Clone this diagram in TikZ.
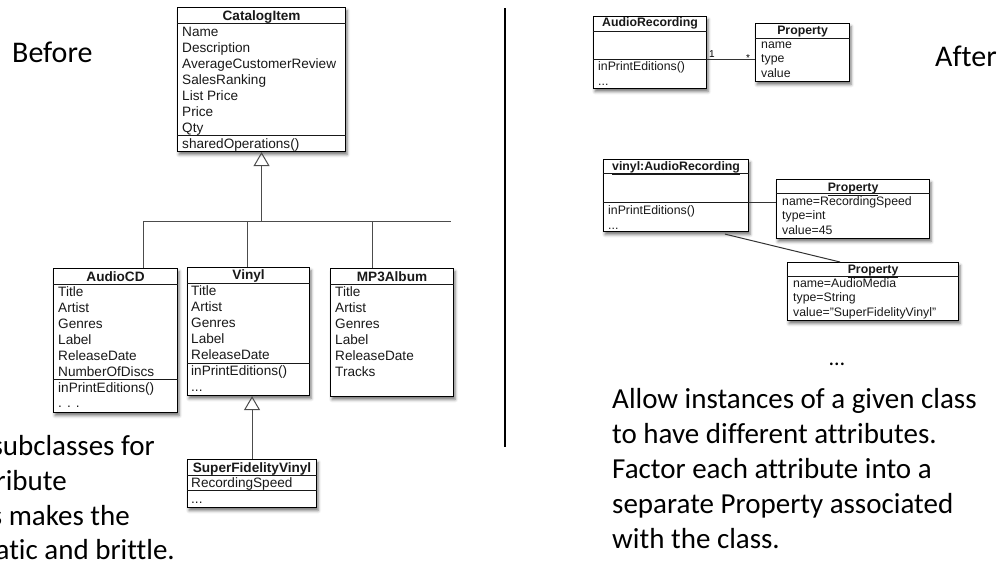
\documentclass[tikz,border=0pt]{standalone}
\usepackage{fontspec}
\setmainfont{Liberation Sans}
\newfontfamily\slidefont[Ligatures=NoCommon]{Carlito}
\usetikzlibrary{arrows.meta,shadows.blur,calc}

\tikzset{
  x=1pt, y=-1pt,
  uml/.style={draw=black, line width=1.1pt, fill=white, inner sep=0pt,
    anchor=north west,
    blur shadow={shadow xshift=1.5pt, shadow yshift=-3pt,
      shadow blur radius=3pt, shadow opacity=55}},
  sepline/.style={draw=black!90, line width=0.9pt},
  bigattr/.style={font=\fontsize{13.6}{16}\selectfont, text=black!90,
    inner sep=0pt, anchor=base west},
  bigtitle/.style={font=\bfseries\fontsize{13.6}{16}\selectfont, text=black!90,
    inner sep=0pt, anchor=base},
  smallattr/.style={font=\fontsize{12.3}{14}\selectfont, text=black!90,
    inner sep=0pt, anchor=base west},
  smalltitle/.style={font=\bfseries\fontsize{12.3}{14}\selectfont, text=black!90,
    inner sep=0pt, anchor=base},
  genline/.style={draw=black!70, line width=1pt},
  genarrow/.style={genline, -{Triangle[open, width=16pt, length=14pt]}},
  assoc/.style={draw=black!80, line width=1pt},
  slidetext/.style={font=\slidefont\fontsize{29}{34}\selectfont,
    inner sep=0pt, anchor=base west},
  headtext/.style={font=\slidefont\fontsize{30}{36}\selectfont,
    inner sep=0pt, anchor=base west},
}

% rows of text inside a class box: prefix, style, x, first baseline, pitch, list
\newcommand\classrows[6]{%
  \foreach \t [count=\i from 0] in {#6}
    \node[#2] (#1-\i) at (#3, #4+#5*\i) {\t};}

% horizontal compartment line of a box at a given y
\newcommand\compartment[2]{%
  \draw[sepline] (#1.west |- 0,#2) -- (#1.east |- 0,#2);}

\begin{document}
\begin{tikzpicture}
\useasboundingbox (0,0) rectangle (1003,566);

% ---------------- Before ----------------
\node[headtext] (before) at (12,62) {Before};

% CatalogItem
\node[uml, minimum width=168pt, minimum height=144pt] (cat) at (177,7) {};
\node[bigtitle] (cat-t) at (cat.north |- 0,20) {CatalogItem};
\compartment{cat}{23}
\compartment{cat}{135}
\classrows{cat}{bigattr}{182}{36}{16}{Name,Description,AverageCustomerReview,SalesRanking,List Price,Price,Qty}
\node[bigattr] (cat-op) at (182,148) {sharedOperations()};

% AudioCD
\node[uml, minimum width=124pt, minimum height=144pt] (cd) at (53,268) {};
\node[bigtitle] (cd-t) at (cd.north |- 0,281) {AudioCD};
\compartment{cd}{284}
\compartment{cd}{379}
\classrows{cd}{bigattr}{58}{296}{16}{Title,Artist,Genres,Label,ReleaseDate,NumberOfDiscs}
\node[bigattr] (cd-op) at (58,392) {inPrintEditions()};
\node[bigattr] (cd-more) at (58,407) {. . .};

% Vinyl
\node[uml, minimum width=122pt, minimum height=128pt] (vin) at (187,267) {};
\node[bigtitle] (vin-t) at (vin.north |- 0,279) {Vinyl};
\compartment{vin}{283}
\compartment{vin}{363}
\classrows{vin}{bigattr}{191}{295}{16}{Title,Artist,Genres,Label,ReleaseDate}
\node[bigattr] (vin-op) at (191,375) {inPrintEditions()};
\node[bigattr] (vin-more) at (191,391) {...};

% MP3Album
\node[uml, minimum width=123pt, minimum height=128pt] (mp3) at (330,268) {};
\node[bigtitle] (mp3-t) at (mp3.north |- 0,281) {MP3Album};
\compartment{mp3}{284}
\classrows{mp3}{bigattr}{335}{296}{16}{Title,Artist,Genres,Label,ReleaseDate,Tracks}

% SuperFidelityVinyl
\node[uml, minimum width=129pt, minimum height=48pt] (sfv) at (187,459) {};
\node[bigtitle] (sfv-t) at (sfv.north |- 0,472) {SuperFidelityVinyl};
\compartment{sfv}{475}
\compartment{sfv}{490}
\node[bigattr] (sfv-a) at (191,487) {RecordingSpeed};
\node[bigattr] (sfv-more) at (191,503) {...};

% generalisation tree
\coordinate (busL) at (143,221);
\coordinate (busR) at (451,221);
\coordinate (busV) at (247,221);
\coordinate (busM) at (372,221);
\draw[genline] (busL) -- (busR);
\draw[genarrow] (busL -| cat.south) -- (cat.south);
\draw[genline] (busL) -- (busL |- cd.north);
\draw[genline] (busV) -- (busV |- vin.north);
\draw[genline] (busM) -- (busM |- mp3.north);
\draw[genarrow] (sfv.north) -- (sfv.north |- vin.south);

% explanatory text, running off the left edge
\begin{scope}
  \clip (0,0) rectangle (1003,566);
  \node[slidetext, anchor=base east] (l1) at (155,455) {subclasses for};
  \node[slidetext, anchor=base east] (l2) at (67,490) {ribute};
  \node[slidetext, anchor=base east] (l3) at (130,525) {s makes the};
  \node[slidetext, anchor=base east] (l4) at (175,559) {atic and brittle.};
\end{scope}

% divider
\draw[line width=1.6pt] (505,8) -- (505,447);

% ---------------- After ----------------
\node[headtext] (after) at (935,66) {After};

% AudioRecording class
\node[uml, minimum width=113pt, minimum height=72pt] (ar) at (593,16) {};
\node[smalltitle] (ar-t) at (ar.north |- 0,26) {AudioRecording};
\compartment{ar}{31}
\compartment{ar}{59}
\node[smallattr] (ar-op) at (598,70.5) {inPrintEditions()};
\node[smallattr] (ar-more) at (598,85) {...};

% Property class
\node[uml, minimum width=94pt, minimum height=58pt] (prop) at (755,23) {};
\node[smalltitle] (prop-t) at (prop.north |- 0,34) {Property};
\compartment{prop}{38}
\classrows{prop}{smallattr}{761}{48}{14.5}{name,type,value}

% association 1 -- *
\coordinate (arlink) at (ar.east |- 0,59);
\draw[assoc] (arlink) -- (arlink -| prop.west);
\node[font=\fontsize{10}{12}\selectfont, anchor=base, inner sep=0pt] (one) at (712,57) {1};
\node[font=\fontsize{10}{12}\selectfont, anchor=base, inner sep=0pt] (many) at (748,61) {*};

% vinyl instance
\node[uml, minimum width=145pt, minimum height=72pt] (vi) at (603,159) {};
\node[smalltitle] (vi-t) at (vi.north |- 0,170) {\underline{vinyl:AudioRecording}};
\compartment{vi}{173}
\compartment{vi}{202}
\node[smallattr] (vi-op) at (608,214) {inPrintEditions()};
\node[smallattr] (vi-more) at (608,229) {...};

% first Property instance
\node[uml, minimum width=153pt, minimum height=59pt] (p1) at (776,179) {};
\node[smalltitle] (p1-t) at (p1.north |- 0,191) {\underline{Property}};
\compartment{p1}{193}
\classrows{p1}{smallattr}{782}{205}{14.5}{name=RecordingSpeed,type=int,value=45}

% second Property instance
\node[uml, minimum width=171pt, minimum height=58pt] (p2) at (787,262) {};
\node[smalltitle] (p2-t) at (p2.north |- 0,273) {\underline{Property}};
\compartment{p2}{276}
\classrows{p2}{smallattr}{793}{287}{14.5}{name=AudioMedia,type=String,value="SuperFidelityVinyl"}

% instance links
\coordinate (vilink) at (vi.east |- 0,202);
\draw[assoc] (vilink) -- (vilink -| p1.west);
\draw[assoc] ($(vi.south west)+(122,2)$) -- ($(p2.north west)+(53,0)$);

% more instances and explanation
\node[font=\slidefont\fontsize{22}{26}\selectfont, anchor=base, inner sep=0pt] (dots) at (837,365) {…};
\node[slidetext] (r1) at (612,408) {Allow instances of a given class};
\node[slidetext] (r2) at (612,443) {to have different attributes.};
\node[slidetext] (r3) at (612,478) {Factor each attribute into a};
\node[slidetext] (r4) at (612,513) {separate Property associated};
\node[slidetext] (r5) at (612,548) {with the class.};
\end{tikzpicture}
\end{document}
